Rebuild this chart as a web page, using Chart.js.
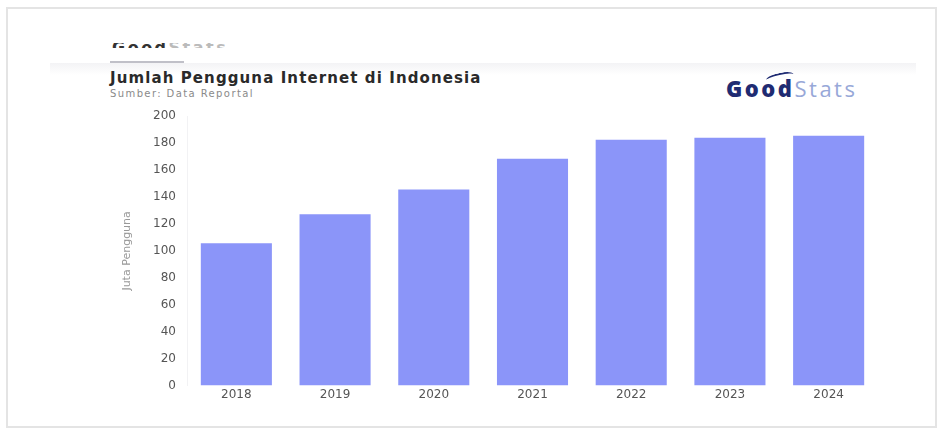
<!DOCTYPE html>
<html lang="id">

<head>
    <meta charset="UTF-8">
    <title>Jumlah Pengguna Internet di Indonesia</title>
    <script src="https://cdn.jsdelivr.net/npm/chart.js"></script>
    <style>
        html, body {
            margin: 0;
            padding: 0;
            background: #fff;
            width: 944px;
            height: 434px;
            overflow: hidden;
            font-family: "DejaVu Sans", sans-serif;
        }

        #frame {
            position: absolute;
            left: 6px;
            top: 7px;
            width: 931px;
            height: 421px;
            border: 2px solid #e4e4e4;
            box-sizing: border-box;
        }

        #tab {
            position: absolute;
            left: 112px;
            top: 43px;
            height: 5px;
            overflow: hidden;
            font-size: 16px;
            font-weight: bold;
            line-height: 10px;
            letter-spacing: 2.5px;
        }

        #tab span {
            display: inline-block;
            margin-top: -2px;
        }

        #underline {
            position: absolute;
            left: 110px;
            top: 61px;
            width: 74px;
            height: 2px;
            background: #c0c0c8;
        }

        #band {
            position: absolute;
            left: 50px;
            top: 63px;
            width: 866px;
            height: 12px;
            background: linear-gradient(#f3f3f5, #fff);
        }

        #title {
            position: absolute;
            left: 110px;
            top: 69px;
            font-size: 15px;
            font-weight: bold;
            color: #2a2a2a;
            letter-spacing: 1.1px;
        }

        #subtitle {
            position: absolute;
            left: 110px;
            top: 88px;
            font-size: 10px;
            color: #8a8a8a;
            letter-spacing: 1.4px;
        }

        #logo {
            position: absolute;
            left: 726px;
            top: 75px;
            font-family: "Open Sans", sans-serif;
            font-size: 22px;
            line-height: 26px;
            letter-spacing: 2.5px;
        }

        #logo .good {
            font-weight: 800;
            color: #1f2b72;
        }

        #logo .stats {
            color: #98a8d8;
        }

        #swoosh {
            position: absolute;
            left: 766px;
            top: 73px;
            width: 28px;
            height: 6px;
            border-top: 2px solid #1f2b72;
            border-radius: 50% 50% 0 0;
            transform: rotate(-12deg);
        }

        #wrap {
            position: absolute;
            left: 110px;
            top: 98px;
            width: 780px;
            height: 312px;
        }
    </style>
</head>

<body>
    <div id="frame"></div>
    <div id="tab"><span style="color:#333">Good</span><span style="color:#bbb">Stats</span></div>
    <div id="underline"></div>
    <div id="band"></div>
    <div id="title">Jumlah Pengguna Internet di Indonesia</div>
    <div id="subtitle">Sumber: Data Reportal</div>
    <div id="swoosh"></div>
    <div id="logo"><span class="good">Good</span><span class="stats">Stats</span></div>
    <div id="wrap"><canvas id="chart"></canvas></div>

    <script>
        // data (juta pengguna)
        const years = ['2018', '2019', '2020', '2021', '2022', '2023', '2024'];
        const users = [105.6, 127.3, 145.5, 168.4, 182.5, 184.0, 185.4];
        const yTicks = [0, 20, 40, 60, 80, 100, 120, 140, 160, 180, 200];

        const ctx = document.getElementById('chart').getContext('2d');

        new Chart(ctx, {
            type: 'bar',
            data: {
                labels: years,
                datasets: [{
                    label: 'Pengguna Internet',
                    data: users,
                    backgroundColor: '#8b95f9',
                    borderWidth: 0,
                    barPercentage: 0.9,
                    categoryPercentage: 0.8
                }]
            },
            options: {
                responsive: true,
                maintainAspectRatio: false,
                animation: false,
                layout: {
                    padding: { top: 4, right: 12, bottom: 6, left: 0 }
                },
                plugins: {
                    legend: { display: false },
                    tooltip: { enabled: false }
                },
                scales: {
                    x: {
                        grid: { display: false, drawTicks: false },
                        border: { display: false },
                        ticks: {
                            color: '#555',
                            padding: 2,
                            font: { family: 'DejaVu Sans', size: 12 }
                        }
                    },
                    y: {
                        min: 0,
                        max: 200,
                        afterBuildTicks: (scale) => {
                            scale.ticks = yTicks.map((v) => ({ value: v }));
                        },
                        afterFit: (scale) => {
                            scale.width = 77;
                        },
                        grid: { display: false, drawTicks: false },
                        border: { display: true, color: '#f2f2f4' },
                        ticks: {
                            color: '#555',
                            padding: 11,
                            font: { family: 'DejaVu Sans', size: 12 }
                        },
                        title: {
                            display: true,
                            text: 'Juta Pengguna',
                            color: '#999',
                            padding: { top: 11, bottom: 0 },
                            font: { family: 'DejaVu Sans', size: 11 }
                        }
                    }
                }
            }
        });
    </script>
</body>

</html>
